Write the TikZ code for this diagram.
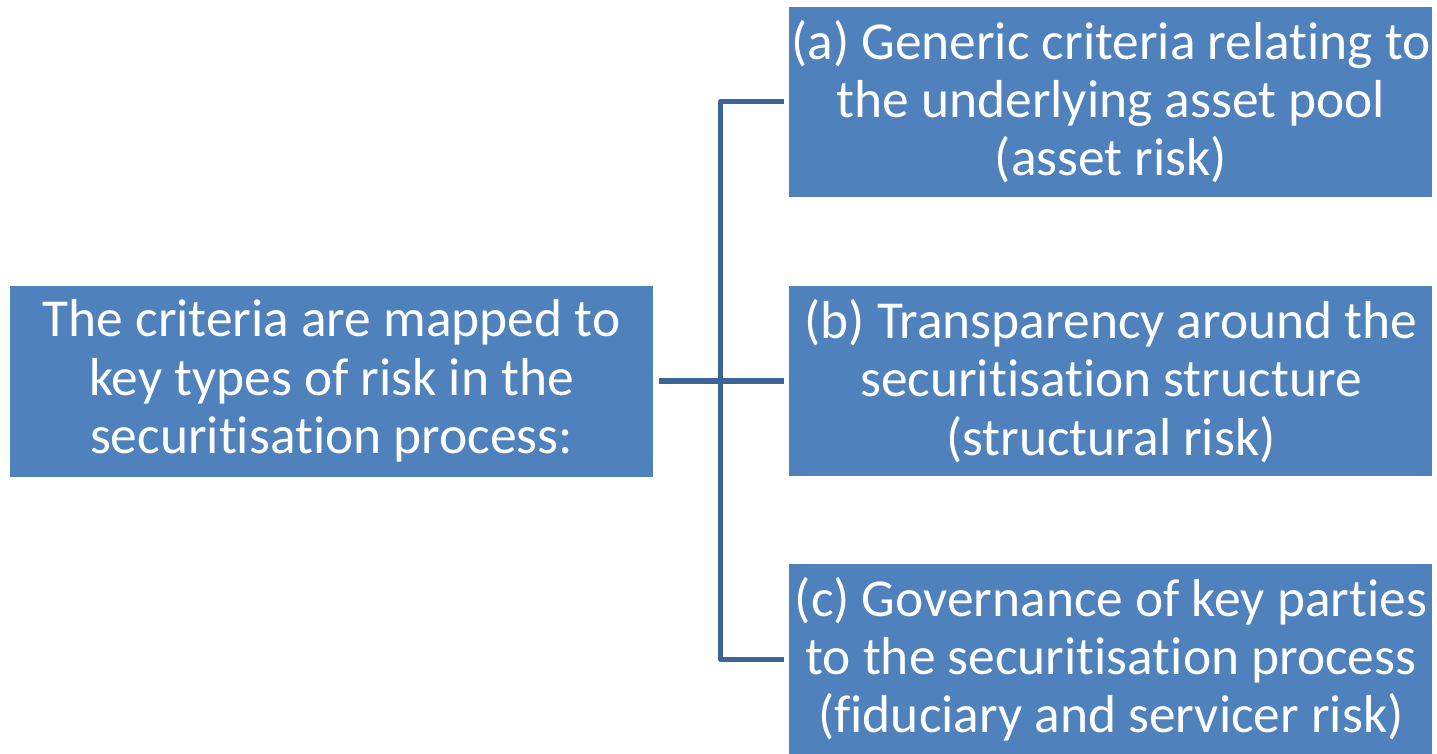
\documentclass[tikz,border=0pt]{standalone}
\usepackage{fontspec}
\setmainfont{Carlito}[Ligatures=NoCommon]
\usepackage{xcolor}
\usetikzlibrary{positioning}

\definecolor{boxblue}{HTML}{4F81BD}
\definecolor{linkblue}{HTML}{3C6597}

\begin{document}
\begin{tikzpicture}[
    node distance=0.88cm,
    crit/.style={rectangle, fill=boxblue, text=white, minimum width=6.43cm, minimum height=1.91cm, align=center, inner sep=0pt, font=\fontsize{15.2}{16.6}\selectfont},
    risk/.style={crit, minimum height=1.9cm},
    link/.style={draw=linkblue, line width=1.5pt, line join=round}
]
\useasboundingbox (0,0) rectangle (14.37,-7.53);

% Main statement
\node[crit] (main) at (3.315,-3.81) {The criteria are mapped to\\key types of risk in the\\securitisation process:};

% Risk types
\node[risk, right=1.35cm of main] (struct) {(b) Transparency around the\\securitisation structure\\(structural risk)};
\node[risk, above=of struct] (asset) {(a) Generic criteria relating to\\the underlying asset pool\\(asset risk)};
\node[risk, below=0.87cm of struct] (gov) {(c) Governance of key parties\\to the securitisation process\\(fiduciary and servicer risk)};

% Bracket
\coordinate (fork) at ([xshift=0.67cm]main.east);
\draw[link] ([xshift=0.05cm]main.east) -- ([xshift=-0.05cm]struct.west);
\draw[link] ([xshift=-0.05cm]asset.west) -| (fork) |- ([xshift=-0.05cm]gov.west);

\end{tikzpicture}
\end{document}
